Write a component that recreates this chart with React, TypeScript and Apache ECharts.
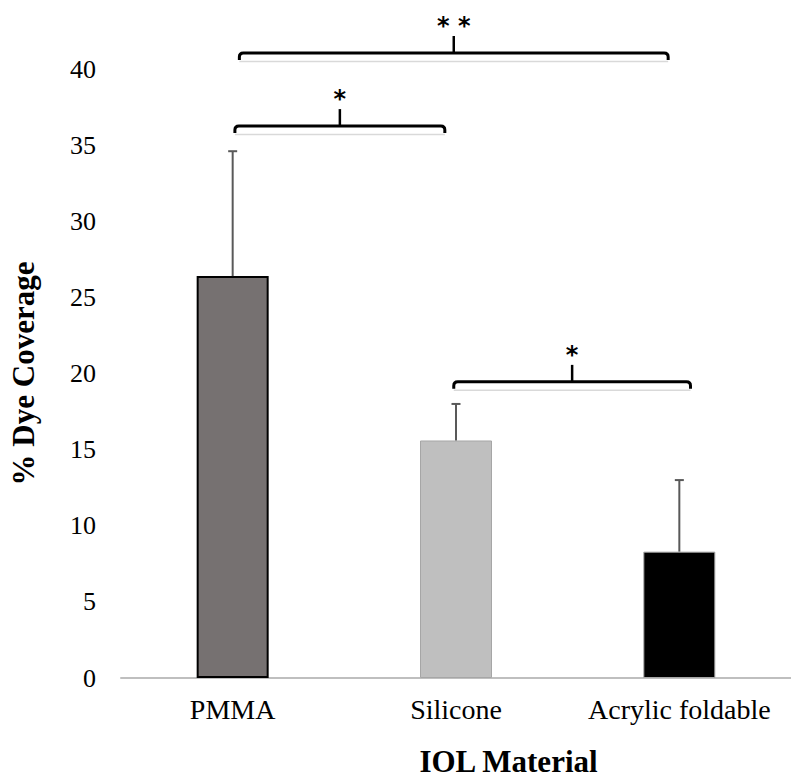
import React, { useEffect, useRef } from "react";
import * as echarts from "echarts";

// IOL materials and mean % dye coverage with standard deviation
const categories = ["PMMA", "Silicone", "Acrylic foldable"];
const means = [26.4, 15.6, 8.3];
const errors = [8.2, 2.4, 4.7];
const yTicks = { min: 0, max: 40, interval: 5 };

// Significance brackets: span in category units (from first bar centre), level in % coverage
const bracketFrom = [0.01, 0.03, 0.99];
const bracketTo = [0.95, 1.95, 2.05];
const bracketLevel = [36.25, 41.05, 19.45];
const bracketMark = ["*", "* *", "*"];

const barStyles = [
  { color: "#767171", borderColor: "#000000", borderWidth: 2 },
  { color: "#bfbfbf", borderColor: "#a6a6a6", borderWidth: 1 },
  { color: "#000000", borderColor: "#a6a6a6", borderWidth: 1 },
];

const serif = "'Liberation Serif', 'Times New Roman', serif";

export default function App() {
  const ref = useRef<HTMLDivElement>(null);

  useEffect(() => {
    if (!ref.current) return;
    const chart = echarts.init(ref.current, undefined, { renderer: "svg" });

    const option = {
      animation: false,
      backgroundColor: "#ffffff",
      grid: { left: 121, top: 69, width: 681, height: 617, containLabel: false },
      xAxis: {
        type: "category",
        data: categories,
        name: "IOL Material",
        nameLocation: "middle",
        nameGap: 68,
        nameTextStyle: {
          fontFamily: serif,
          fontWeight: "bold",
          fontSize: 31,
          color: "#000",
          padding: [0, 0, 0, 105],
        },
        axisLine: { show: true, lineStyle: { color: "#bfbfbf", width: 2 } },
        axisTick: { show: false },
        axisLabel: {
          fontFamily: serif,
          fontSize: 28,
          color: "#000",
          margin: 17,
          interval: 0,
        },
      },
      yAxis: {
        type: "value",
        min: yTicks.min,
        max: yTicks.max,
        interval: yTicks.interval,
        name: "% Dye Coverage",
        nameLocation: "middle",
        nameGap: 82,
        nameRotate: 90,
        nameTextStyle: {
          fontFamily: serif,
          fontWeight: "bold",
          fontSize: 31,
          color: "#000",
        },
        axisLine: { show: false },
        axisTick: { show: false },
        splitLine: { show: false },
        axisLabel: {
          fontFamily: serif,
          fontSize: 26,
          color: "#000",
          margin: 25,
        },
      },
      series: [
        {
          type: "bar",
          barWidth: 72,
          data: means.map((v, i) => ({ value: v, itemStyle: barStyles[i] })),
          z: 2,
        },
        {
          // upper error bars
          type: "custom",
          z: 3,
          data: means.map((v, i) => [i, v + errors[i]]),
          renderItem: (params: any, api: any) => {
            const i = params.dataIndex;
            const base = api.coord([i, means[i]]);
            const top = api.coord([i, means[i] + errors[i]]);
            const half = 4.5;
            const style = { stroke: "#595959", lineWidth: 2 };
            return {
              type: "group",
              children: [
                { type: "line", shape: { x1: base[0], y1: base[1], x2: top[0], y2: top[1] }, style },
                { type: "line", shape: { x1: top[0] - half, y1: top[1], x2: top[0] + half, y2: top[1] }, style },
              ],
            };
          },
        },
        {
          // significance brackets
          type: "custom",
          z: 4,
          clip: false,
          data: bracketLevel.map((lv) => [0, lv]),
          renderItem: (params: any, api: any) => {
            const k = params.dataIndex;
            const c0 = api.coord([0, bracketLevel[k]]);
            const c1 = api.coord([1, bracketLevel[k]]);
            const band = c1[0] - c0[0];
            const xa = c0[0] + bracketFrom[k] * band;
            const xb = c0[0] + bracketTo[k] * band;
            const y = c0[1];
            const xm = (xa + xb) / 2;
            const drop = 7;
            const r = 4;
            const tick = 17;
            const d =
              `M${xa},${y + drop} L${xa},${y + r} Q${xa},${y} ${xa + r},${y} ` +
              `L${xb - r},${y} Q${xb},${y} ${xb},${y + r} L${xb},${y + drop}`;
            return {
              type: "group",
              children: [
                {
                  type: "line",
                  shape: { x1: xa, y1: y + drop + 1.5, x2: xb, y2: y + drop + 1.5 },
                  style: { stroke: "#d9d9d9", lineWidth: 1.5 },
                },
                {
                  type: "path",
                  shape: { pathData: d },
                  style: { stroke: "#000", lineWidth: 3, fill: "none" },
                },
                {
                  type: "line",
                  shape: { x1: xm, y1: y, x2: xm, y2: y - tick },
                  style: { stroke: "#000", lineWidth: 2.5 },
                },
                {
                  type: "text",
                  x: xm,
                  y: y - 27,
                  style: {
                    text: bracketMark[k],
                    fontFamily: "'DejaVu Sans', sans-serif",
                    fontSize: 24,
                    fontWeight: "bold",
                    fill: "#000",
                    align: "center",
                    verticalAlign: "middle",
                  },
                },
              ],
            };
          },
        },
      ],
    };

    chart.setOption(option as any);
    return () => chart.dispose();
  }, []);

  return (
    <div
      ref={ref}
      style={{ position: "fixed", left: 0, top: 0, width: 791, height: 782, background: "#fff" }}
    />
  );
}
